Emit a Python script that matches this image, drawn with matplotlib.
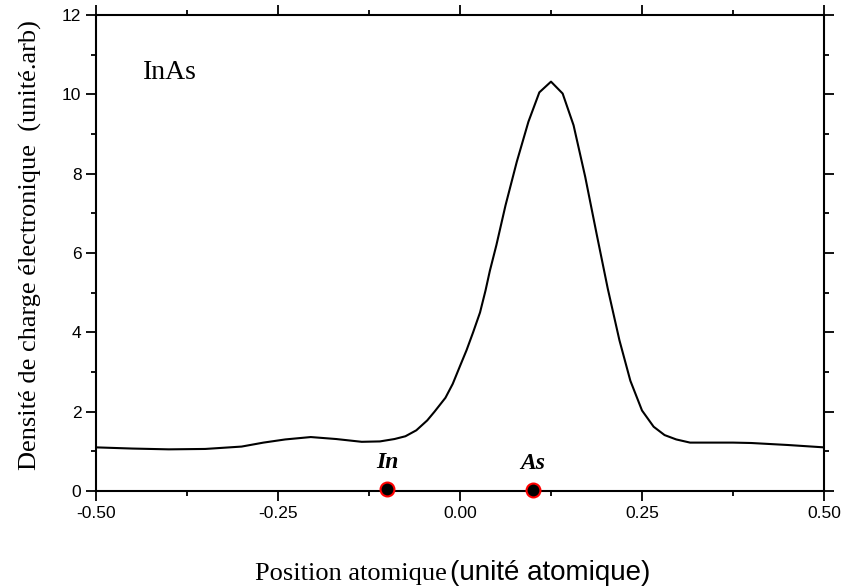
import matplotlib
matplotlib.use("Agg")
import matplotlib.pyplot as plt
from matplotlib.ticker import MultipleLocator, FormatStrFormatter

# charge density profile along the bond
position = [-0.500, -0.450, -0.400, -0.350, -0.300, -0.270, -0.240, -0.205,
            -0.170, -0.135, -0.110, -0.090, -0.075, -0.060, -0.045, -0.035,
            -0.020, -0.010, 0.000, 0.009, 0.018, 0.0275, 0.035, 0.041,
            0.050, 0.0625, 0.078, 0.094, 0.109, 0.125, 0.141, 0.156,
            0.172, 0.188, 0.203, 0.219, 0.234, 0.250, 0.266, 0.281,
            0.297, 0.316, 0.350, 0.375, 0.400, 0.450, 0.500]
density = [1.10, 1.07, 1.05, 1.06, 1.12, 1.22, 1.30, 1.36,
           1.31, 1.24, 1.25, 1.31, 1.38, 1.53, 1.78, 2.00,
           2.35, 2.70, 3.15, 3.55, 4.00, 4.50, 5.05, 5.55,
           6.20, 7.20, 8.30, 9.31, 10.05, 10.32, 10.02, 9.22,
           7.92, 6.45, 5.10, 3.80, 2.78, 2.03, 1.62, 1.41,
           1.30, 1.22, 1.22, 1.22, 1.21, 1.16, 1.10]

atoms = ["In", "As"]
atom_x = [-0.10, 0.10]
atom_y = [0.06, 0.03]

fig = plt.figure(figsize=(8.45, 5.88), dpi=100)
ax = fig.add_axes([96 / 845, 1 - 491 / 588, 728 / 845, 476 / 588])

ax.plot(position, density, color="black", lw=1.5)
ax.plot(atom_x, atom_y, "o", ms=10, mfc="black", mec="red", mew=1.5,
        clip_on=False, zorder=5)
for name, x, y in zip(atoms, atom_x, atom_y):
    ax.text(x, y + 0.4, name, ha="center", va="bottom",
            family="Liberation Serif", style="italic", weight="bold",
            fontsize=17)

ax.text(-0.398, 10.56, "InAs", family="Liberation Serif", fontsize=20,
        ha="center", va="center")

ax.set_xlim(-0.5, 0.5)
ax.set_ylim(0, 12)
ax.xaxis.set_major_locator(MultipleLocator(0.25))
ax.xaxis.set_minor_locator(MultipleLocator(0.125))
ax.xaxis.set_major_formatter(FormatStrFormatter("%.2f"))
ax.yaxis.set_major_locator(MultipleLocator(2))
ax.yaxis.set_minor_locator(MultipleLocator(1))

for side in ax.spines.values():
    side.set_linewidth(1.5)
ax.tick_params(which="both", direction="out", top=True, right=True,
               width=1.3, labelsize=12.5)
ax.tick_params(which="major", length=7)
ax.tick_params(which="minor", length=3.5)
for lbl in ax.get_xticklabels() + ax.get_yticklabels():
    lbl.set_family("Liberation Sans")

# y label (serif)
fig.text(30 / 845, 1 - 245 / 588,
         "Densité de charge électronique  (unité.arb)",
         rotation=90, ha="center", va="center",
         family="Liberation Serif", fontsize=19)

# x label, mixed fonts like the original
fig.text(447 / 845, 1 - 580 / 588, "Position atomique", ha="right",
         va="baseline", family="Liberation Serif", fontsize=19)
fig.text(450 / 845, 1 - 580 / 588, "(unité atomique)", ha="left",
         va="baseline", family="Liberation Sans", fontsize=20)

fig.savefig("out.png", dpi=100)
